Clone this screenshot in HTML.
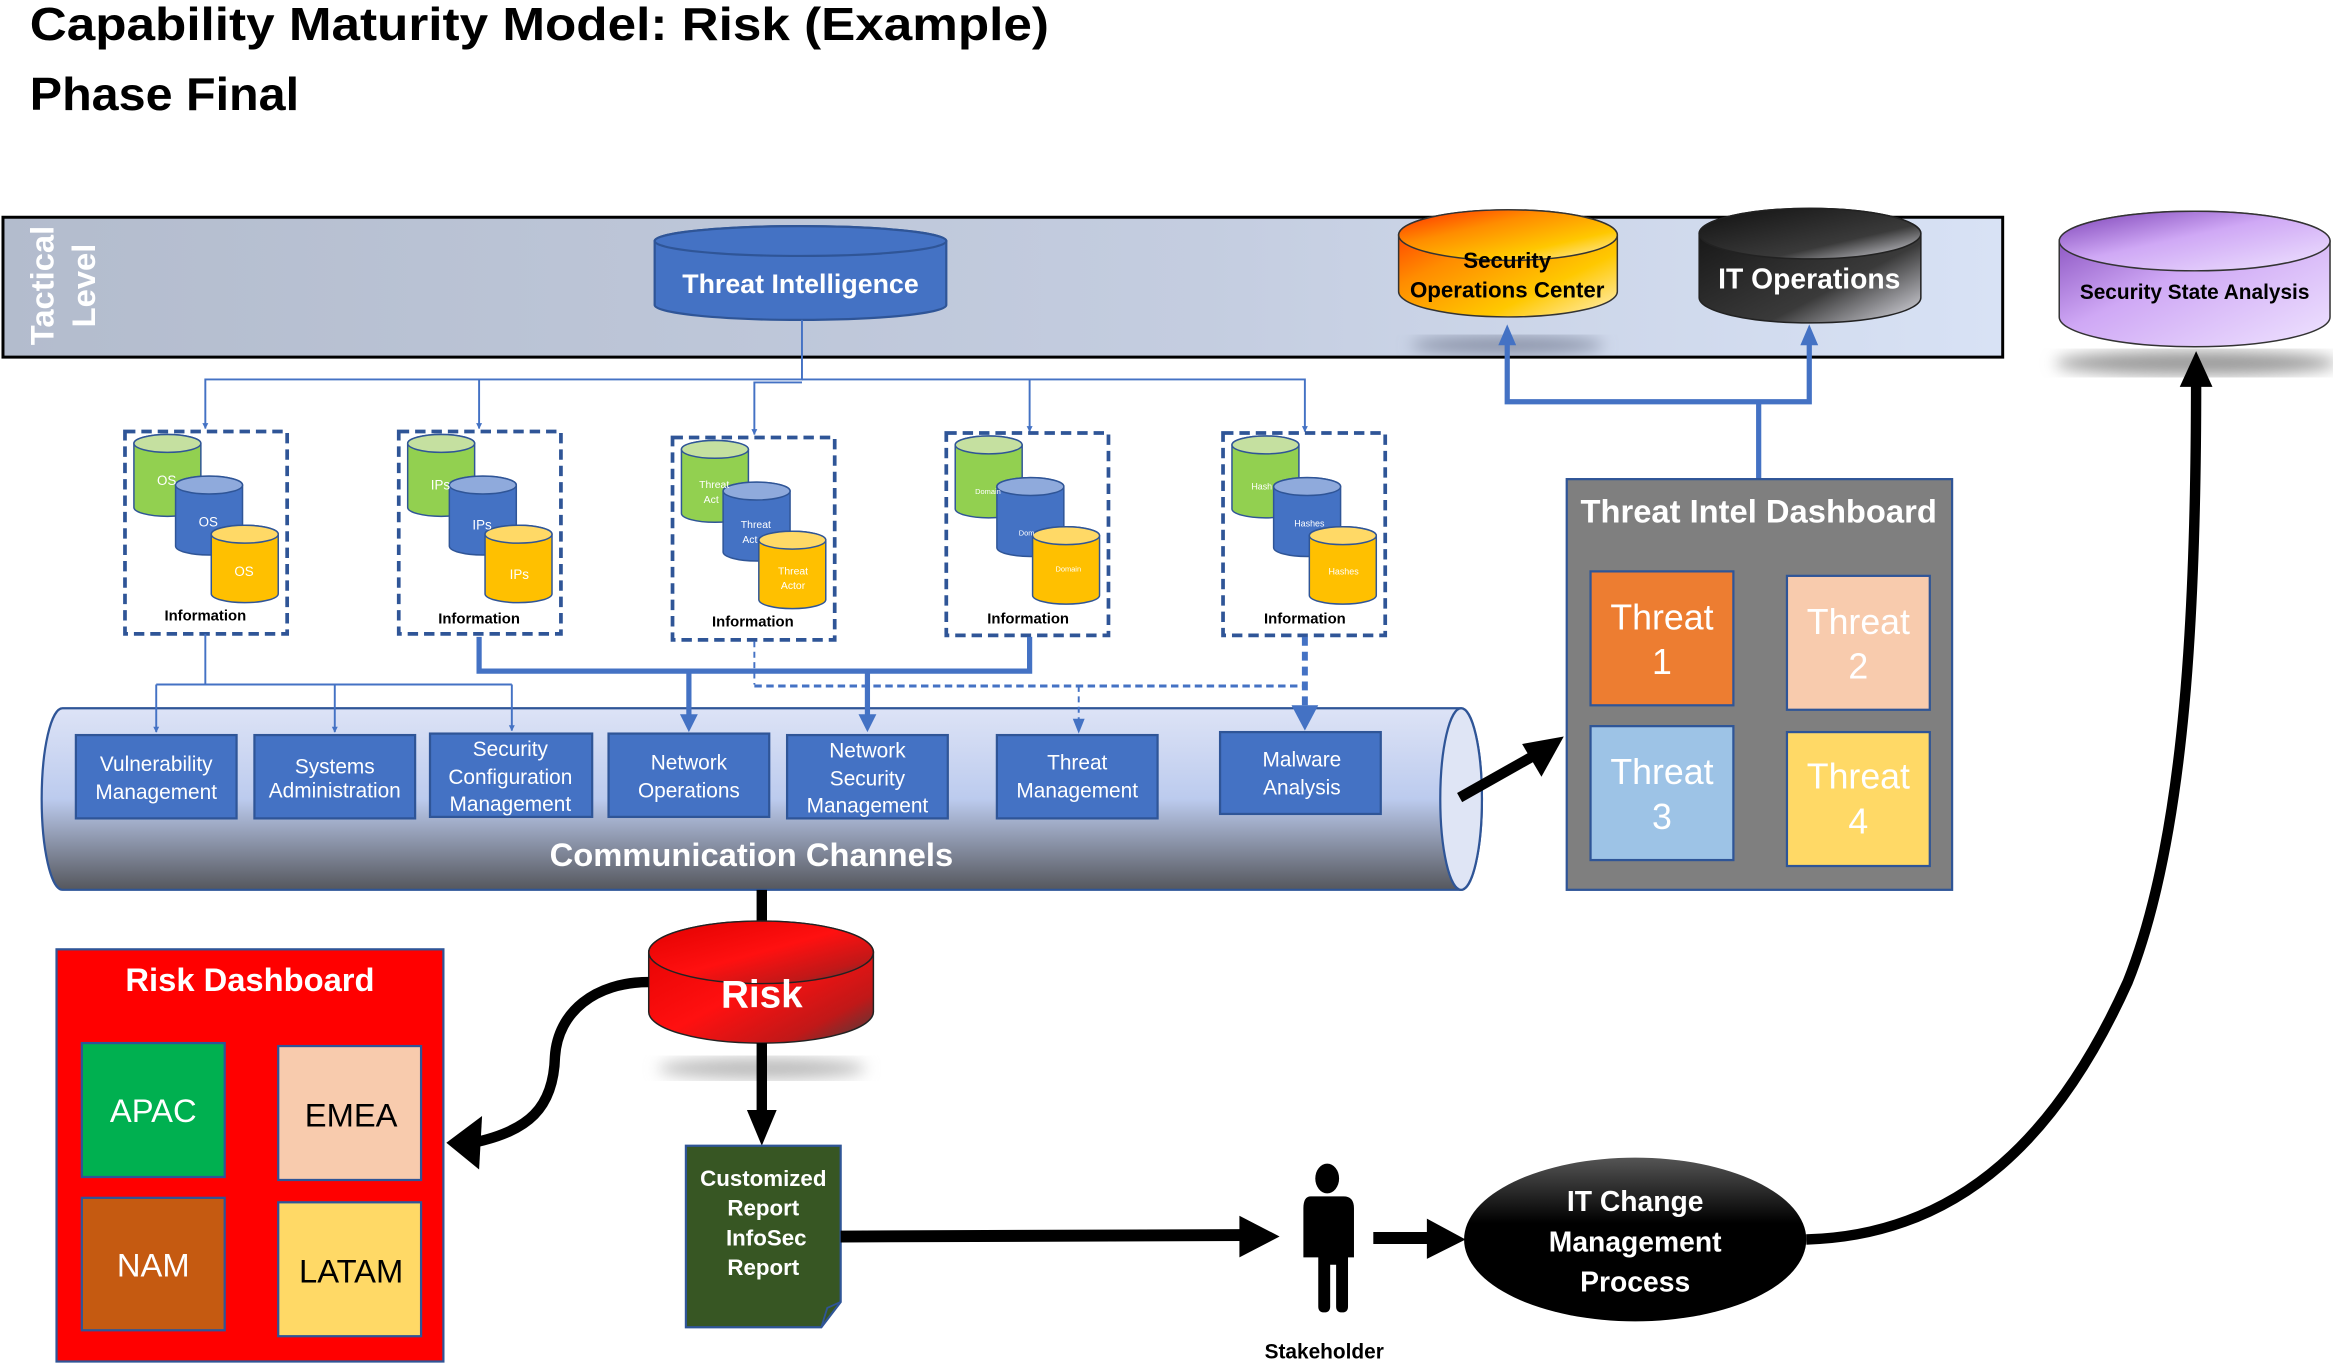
<!DOCTYPE html>
<html><head><meta charset="utf-8"><style>
html,body{margin:0;padding:0;background:#fff;}
svg{display:block;}
text{font-family:"Liberation Sans Narrow","Liberation Sans",sans-serif;}
</style></head><body>
<svg width="2333" height="1363" viewBox="0 0 1568 916" preserveAspectRatio="none" xmlns="http://www.w3.org/2000/svg">
<defs>
<linearGradient id="band" x1="0" x2="1" y1="0" y2="0"><stop offset="0" stop-color="#b3bccd"/><stop offset="0.6" stop-color="#c4cde0"/><stop offset="1" stop-color="#d8e2f5"/></linearGradient>
<linearGradient id="soc" x1="0" y1="0" x2="1" y2="1"><stop offset="0" stop-color="#ff2a00"/><stop offset="0.35" stop-color="#ff8c00"/><stop offset="0.7" stop-color="#ffc800"/><stop offset="1" stop-color="#fff0c0"/></linearGradient>
<linearGradient id="ito" x1="0" y1="0" x2="1" y2="1"><stop offset="0" stop-color="#111"/><stop offset="0.65" stop-color="#3a3a3a"/><stop offset="1" stop-color="#e0e0e8"/></linearGradient>
<linearGradient id="ssa" x1="0" y1="0" x2="1" y2="1"><stop offset="0" stop-color="#7a3fb5"/><stop offset="0.45" stop-color="#cfa8f5"/><stop offset="1" stop-color="#efe4ff"/></linearGradient>
<linearGradient id="risk" x1="0" y1="0" x2="1" y2="1"><stop offset="0" stop-color="#e00000"/><stop offset="0.5" stop-color="#ff1010"/><stop offset="0.8" stop-color="#c01818"/><stop offset="1" stop-color="#404040"/></linearGradient>
<linearGradient id="comm" x1="0" y1="0" x2="0" y2="1"><stop offset="0" stop-color="#dde3f6"/><stop offset="0.5" stop-color="#bccbee"/><stop offset="1" stop-color="#55575d"/></linearGradient>
<linearGradient id="ell" x1="0" y1="0" x2="0" y2="1"><stop offset="0" stop-color="#555"/><stop offset="0.4" stop-color="#000"/><stop offset="1" stop-color="#000"/></linearGradient>
<filter id="blur"><feGaussianBlur stdDeviation="5"/></filter>
<marker id="ab" viewBox="0 0 10 10" refX="9" refY="5" markerWidth="4" markerHeight="5" orient="auto" markerUnits="userSpaceOnUse"><path d="M0,0L10,5L0,10z" fill="#4472c4"/></marker>
<g id="grp">
<rect x="0" y="0" width="109" height="136" fill="#fff" stroke="#2f5597" stroke-width="2.5" stroke-dasharray="7,4"/>
<path d="M6,8 A22.5,6 0 0 1 51,8 V51 A22.5,6 0 0 1 6,51 Z" fill="#92d050" stroke="#2f5597"/>
<ellipse cx="28.5" cy="8" rx="22.5" ry="6" fill="#c5e0a0" stroke="#2f5597"/>
<path d="M34,36 A22.5,6 0 0 1 79,36 V77 A22.5,6 0 0 1 34,77 Z" fill="#4472c4" stroke="#2f5597"/>
<ellipse cx="56.5" cy="36" rx="22.5" ry="6" fill="#8faadc" stroke="#2f5597"/>
<path d="M58,69 A22.5,6 0 0 1 103,69 V109 A22.5,6 0 0 1 58,109 Z" fill="#ffc000" stroke="#2f5597"/>
<ellipse cx="80.5" cy="69" rx="22.5" ry="6" fill="#ffd966" stroke="#2f5597"/>
</g>
</defs>

<text x="20" y="27" font-weight="bold" font-size="31" fill="#000" textLength="685" lengthAdjust="spacingAndGlyphs" style="font-family:'Liberation Sans',sans-serif">Capability Maturity Model: Risk (Example)</text>
<text x="20" y="74" font-weight="bold" font-size="31" fill="#000" textLength="181" lengthAdjust="spacingAndGlyphs" style="font-family:'Liberation Sans',sans-serif">Phase Final</text>

<!-- tactical band -->
<rect x="2" y="146" width="1344" height="94" fill="url(#band)" stroke="#000" stroke-width="2"/>
<text transform="translate(36,232) rotate(-90)" font-size="22" font-weight="bold" fill="#fff" style="font-family:'Liberation Sans',sans-serif">Tactical</text>
<text transform="translate(64,220) rotate(-90)" font-size="22" font-weight="bold" fill="#fff" style="font-family:'Liberation Sans',sans-serif">Level</text>

<!-- shadows -->
<ellipse cx="1013" cy="232" rx="65" ry="6" fill="#8a93a8" filter="url(#blur)"/>
<ellipse cx="1476" cy="244" rx="95" ry="8" fill="#9a9a9a" filter="url(#blur)"/>
<ellipse cx="512" cy="718" rx="70" ry="7" fill="#bbb" filter="url(#blur)"/>

<!-- Threat intelligence -->
<path d="M440,162 A98,10 0 0 1 636,162 V205 A98,10 0 0 1 440,205 Z" fill="#4472c4" stroke="#2f5597" stroke-width="1.5"/>
<ellipse cx="538" cy="162" rx="98" ry="10" fill="#4472c4" stroke="#2f5597" stroke-width="1.5"/>
<text x="538" y="197" text-anchor="middle" font-size="18" font-weight="bold" fill="#fff">Threat Intelligence</text>

<!-- SOC -->
<path d="M940,158 A73.5,17 0 0 1 1087,158 V196 A73.5,17 0 0 1 940,196 Z" fill="url(#soc)" stroke="#333" stroke-width="1"/>
<ellipse cx="1013.5" cy="158" rx="73.5" ry="17" fill="url(#soc)" stroke="#333" stroke-width="1"/>
<text x="1013" y="180" text-anchor="middle" font-size="15" font-weight="bold" fill="#000">Security</text>
<text x="1013" y="200" text-anchor="middle" font-size="15" font-weight="bold" fill="#000">Operations Center</text>

<!-- IT Ops -->
<path d="M1142,157 A74.5,17 0 0 1 1291,157 V200 A74.5,17 0 0 1 1142,200 Z" fill="url(#ito)" stroke="#222" stroke-width="1"/>
<ellipse cx="1216.5" cy="157" rx="74.5" ry="17" fill="url(#ito)" stroke="#222" stroke-width="1"/>
<text x="1216" y="194" text-anchor="middle" font-size="19" font-weight="bold" fill="#fff">IT Operations</text>

<!-- SSA -->
<path d="M1384,162 A91,20 0 0 1 1566,162 V213 A91,20 0 0 1 1384,213 Z" fill="url(#ssa)" stroke="#333" stroke-width="1"/>
<ellipse cx="1475" cy="162" rx="91" ry="20" fill="url(#ssa)" stroke="#333" stroke-width="1"/>
<text x="1475" y="201" text-anchor="middle" font-size="14" font-weight="bold" fill="#000">Security State Analysis</text>

<!-- TI connectors -->
<g stroke="#4472c4" stroke-width="1.3" fill="none">
<path d="M539,215 V255 H138 V288" marker-end="url(#ab)"/>
<path d="M322,255 V288" marker-end="url(#ab)"/>
<path d="M539,257 H507 V292" marker-end="url(#ab)"/>
<path d="M539,255 H877 V290" marker-end="url(#ab)"/>
<path d="M692,255 V290" marker-end="url(#ab)"/>
</g>

<!-- info groups -->
<use href="#grp" transform="translate(84,290)"/>
<use href="#grp" transform="translate(268,290)"/>
<use href="#grp" transform="translate(452,294)"/>
<use href="#grp" transform="translate(636,291)"/>
<use href="#grp" transform="translate(822,291)"/>
<g font-size="10" font-weight="bold" fill="#000" text-anchor="middle">
<text x="138" y="417">Information</text><text x="322" y="419">Information</text><text x="506" y="421">Information</text><text x="691" y="419">Information</text><text x="877" y="419">Information</text>
</g>
<g font-size="9" fill="#fff" text-anchor="middle">
<text x="112" y="326">OS</text><text x="140" y="354">OS</text><text x="164" y="387">OS</text>
<text x="296" y="329">IPs</text><text x="324" y="356">IPs</text><text x="349" y="389">IPs</text>
<text x="480" y="328" font-size="7">Threat</text><text x="478" y="338" font-size="7">Act</text>
<text x="508" y="355" font-size="7">Threat</text><text x="504" y="365" font-size="7">Act</text>
<text x="533" y="386" font-size="7">Threat</text><text x="533" y="396" font-size="7">Actor</text>
<text x="664" y="332" font-size="5">Domain</text><text x="690" y="360" font-size="5">Dom</text><text x="718" y="384" font-size="5">Domain</text>
<text x="848" y="329" font-size="6">Hash</text><text x="880" y="354" font-size="6">Hashes</text><text x="903" y="386" font-size="6">Hashes</text>
</g>

<!-- Comm channels cylinder -->
<path d="M42,476 H982 A14,61 0 0 1 982,598 H42 A14,61 0 0 1 42,476 Z" fill="url(#comm)" stroke="#2f5597" stroke-width="1.5"/>
<ellipse cx="982" cy="537" rx="14" ry="61" fill="#dfe5f5" stroke="#2f5597" stroke-width="1.5"/>
<text x="505" y="582" text-anchor="middle" font-size="22" font-weight="bold" fill="#fff">Communication Channels</text>

<!-- connectors to comm -->
<g stroke="#4472c4" fill="none">
<path d="M138,426 V460" stroke-width="1.3"/>
<path d="M105,460 H344" stroke-width="1.3"/>
<path d="M105,460 V492" stroke-width="1.3" marker-end="url(#ab)"/>
<path d="M225,460 V492" stroke-width="1.3" marker-end="url(#ab)"/>
<path d="M344,460 V491" stroke-width="1.3" marker-end="url(#ab)"/>
<path d="M322,428 V451 H692 V428" stroke-width="3.5"/>
<path d="M463,451 V484" stroke-width="3.5"/>
<path d="M583,451 V484" stroke-width="3.5"/>
<path d="M507,431 V460" stroke-width="1.3" stroke-dasharray="4,3"/>
<path d="M507,461 H877" stroke-width="2" stroke-dasharray="5,3"/>
<path d="M725,461 V484" stroke-width="1.3" stroke-dasharray="4,3"/>
<path d="M877,428 V476" stroke-width="4" stroke-dasharray="6,4"/>
</g>
<g fill="#4472c4">
<path d="M457,480 L469,480 L463,492 Z"/><path d="M577,480 L589,480 L583,492 Z"/>
<path d="M721,483 L729,483 L725,493 Z"/><path d="M868,474 L886,474 L877,491 Z"/>
</g>

<!-- inner boxes -->
<g fill="#4472c4" stroke="#2f5597" stroke-width="1.5">
<rect x="51" y="494" width="108" height="56"/><rect x="171" y="494" width="108" height="56"/>
<rect x="289" y="493" width="109" height="56"/><rect x="409" y="493" width="108" height="56"/>
<rect x="529" y="494" width="108" height="56"/><rect x="670" y="494" width="108" height="56"/>
<rect x="820" y="492" width="108" height="55"/>
</g>
<g font-size="14" fill="#fff" text-anchor="middle">
<text x="105" y="518">Vulnerability</text><text x="105" y="537">Management</text>
<text x="225" y="520">Systems</text><text x="225" y="536">Administration</text>
<text x="343" y="508">Security</text><text x="343" y="527">Configuration</text><text x="343" y="545">Management</text>
<text x="463" y="517">Network</text><text x="463" y="536">Operations</text>
<text x="583" y="509">Network</text><text x="583" y="528">Security</text><text x="583" y="546">Management</text>
<text x="724" y="517">Threat</text><text x="724" y="536">Management</text>
<text x="875" y="515">Malware</text><text x="875" y="534">Analysis</text>
</g>

<!-- arrow to TID -->
<line x1="981" y1="536" x2="1036" y2="505" stroke="#000" stroke-width="7"/>
<path d="M1051,495 L1023,500 L1036,522 Z" fill="#000"/>

<!-- TID -->
<path d="M1182,322 V270 H1013 V230 M1182,270 H1216 V230" stroke="#4472c4" stroke-width="3.5" fill="none"/>
<path d="M1007,232 L1019,232 L1013,218 Z M1210,232 L1222,232 L1216,218 Z" fill="#4472c4"/>
<rect x="1053" y="322" width="259" height="276" fill="#7f7f7f" stroke="#2f5597" stroke-width="1.5"/>
<text x="1182" y="351" text-anchor="middle" font-size="22" font-weight="bold" fill="#fff">Threat Intel Dashboard</text>
<g stroke="#2f5597" stroke-width="1.5">
<rect x="1069" y="384" width="96" height="90" fill="#ed7d31"/>
<rect x="1201" y="387" width="96" height="90" fill="#f8cbad"/>
<rect x="1069" y="488" width="96" height="90" fill="#9dc3e6"/>
<rect x="1201" y="492" width="96" height="90" fill="#ffd966"/>
</g>
<g font-size="24" fill="#fff" text-anchor="middle">
<text x="1117" y="423">Threat</text><text x="1117" y="453">1</text>
<text x="1249" y="426">Threat</text><text x="1249" y="456">2</text>
<text x="1117" y="527">Threat</text><text x="1117" y="557">3</text>
<text x="1249" y="530">Threat</text><text x="1249" y="560">4</text>
</g>

<!-- Risk -->
<line x1="512" y1="598" x2="512" y2="620" stroke="#000" stroke-width="7"/>
<path d="M436,640 A75.5,21 0 0 1 587,640 V680 A75.5,21 0 0 1 436,680 Z" fill="url(#risk)" stroke="#222" stroke-width="1"/>
<ellipse cx="511.5" cy="640" rx="75.5" ry="21" fill="url(#risk)" stroke="#222" stroke-width="1"/>
<text x="512" y="677" text-anchor="middle" font-size="26" font-weight="bold" fill="#fff">Risk</text>
<line x1="512" y1="701" x2="512" y2="750" stroke="#000" stroke-width="7"/>
<path d="M502,746 L522,746 L512,770 Z" fill="#000"/>
<path d="M436,660 C400,660 375,680 373,710 C372,745 355,760 318,768" stroke="#000" stroke-width="7" fill="none"/>
<path d="M300,768 L324,750 L322,786 Z" fill="#000"/>

<!-- Risk dashboard -->
<rect x="38" y="638" width="260" height="277" fill="#ff0000" stroke="#2f5597" stroke-width="1.5"/>
<text x="168" y="666" text-anchor="middle" font-size="22" font-weight="bold" fill="#fff">Risk Dashboard</text>
<g stroke="#2f5597" stroke-width="1.5">
<rect x="55" y="701" width="96" height="90" fill="#00b050"/>
<rect x="187" y="703" width="96" height="90" fill="#f8cbad"/>
<rect x="55" y="805" width="96" height="89" fill="#c55a11"/>
<rect x="187" y="808" width="96" height="90" fill="#ffd966"/>
</g>
<g font-size="22" text-anchor="middle">
<text x="103" y="754" fill="#fff">APAC</text><text x="236" y="757" fill="#000">EMEA</text>
<text x="103" y="858" fill="#fff">NAM</text><text x="236" y="862" fill="#000">LATAM</text>
</g>

<!-- report -->
<path d="M461,770 H565 V875 L552,892 H461 Z" fill="#375623" stroke="#2f5597" stroke-width="1.5"/>
<path d="M552,892 L556,879 L565,875" fill="none" stroke="#2f5597" stroke-width="1.2"/>
<g font-size="15" font-weight="bold" fill="#fff" text-anchor="middle">
<text x="513" y="797">Customized</text><text x="513" y="817">Report</text><text x="515" y="837">InfoSec</text><text x="513" y="857">Report</text>
</g>
<line x1="565" y1="831" x2="836" y2="830" stroke="#000" stroke-width="8"/>
<path d="M833,817 L860,831 L833,845 Z" fill="#000"/>

<!-- stakeholder -->
<g fill="#000">
<ellipse cx="892" cy="792" rx="8" ry="10"/>
<path d="M881,804 H903 Q910,804 910,812 V845 H906 V878 Q906,882 902,882 Q898,882 898,878 V850 H894 V878 Q894,882 890,882 Q886,882 886,878 V845 H876 V812 Q876,804 881,804 Z"/>
</g>
<text x="890" y="913" text-anchor="middle" font-size="14" font-weight="bold" fill="#000">Stakeholder</text>
<line x1="923" y1="832" x2="962" y2="832" stroke="#000" stroke-width="8"/>
<path d="M959,819 L985,833 L959,846 Z" fill="#000"/>

<!-- IT change -->
<ellipse cx="1099" cy="833" rx="115" ry="55" fill="url(#ell)"/>
<g font-size="19" font-weight="bold" fill="#fff" text-anchor="middle">
<text x="1099" y="814">IT Change</text><text x="1099" y="841">Management</text><text x="1099" y="868">Process</text>
</g>
<path d="M1214,833 C1320,830 1385,760 1430,660 C1470,560 1476,400 1476,256" stroke="#000" stroke-width="7" fill="none"/>
<path d="M1465,260 L1487,260 L1476,236 Z" fill="#000"/>
</svg>
</body></html>
